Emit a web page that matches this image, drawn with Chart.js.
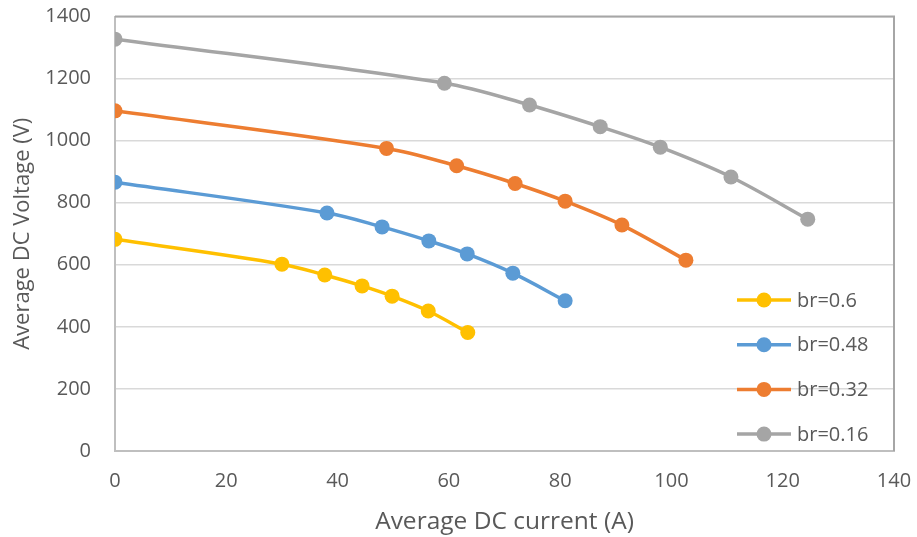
<!DOCTYPE html>
<html>
<head>
<meta charset="utf-8">
<script src="https://cdn.jsdelivr.net/npm/chart.js@4.4.1/dist/chart.umd.min.js"></script>
<style>
  html, body { margin: 0; padding: 0; background: #ffffff; }
  #wrap { width: 917px; height: 537px; position: relative; }
</style>
</head>
<body>
<div id="wrap"><canvas id="chart"></canvas></div>
<script>
// Series names
const seriesLabels = ['br=0.6', 'br=0.48', 'br=0.32', 'br=0.16'];

// Average DC current (A) per operating point
const current06 = [0, 30.0, 37.7, 44.4, 49.8, 56.3, 63.4];
const current048 = [0, 38.1, 48.0, 56.4, 63.3, 71.5, 80.9];
const current032 = [0, 48.8, 61.4, 71.9, 80.9, 91.1, 102.6];
const current016 = [0, 59.2, 74.5, 87.2, 98.0, 110.7, 124.5];

// Average DC voltage (V) per operating point
const voltage06 = [682, 602, 567, 532, 499, 451, 382];
const voltage048 = [866, 767, 722, 677, 635, 573, 484];
const voltage032 = [1096, 975, 919, 862, 805, 728, 615];
const voltage016 = [1327, 1185, 1115, 1045, 979, 883, 747];

// Axis ticks
const xTicks = [0, 20, 40, 60, 80, 100, 120, 140];
const yTicks = [0, 200, 400, 600, 800, 1000, 1200, 1400];

const seriesColors = ['#FFC000', '#5B9BD5', '#ED7D31', '#A5A5A5'];
const textColor = '#595959';
const fontFamily = '"Open Sans", "Liberation Sans", sans-serif';

function toPoints(xs, ys) {
  return xs.map((x, i) => ({ x: x, y: ys[i] }));
}

const seriesData = [
  toPoints(current06, voltage06),
  toPoints(current048, voltage048),
  toPoints(current032, voltage032),
  toPoints(current016, voltage016)
];

const datasets = seriesLabels.map((label, i) => ({
  label: label,
  data: seriesData[i],
  showLine: true,
  borderColor: seriesColors[i],
  backgroundColor: seriesColors[i],
  borderWidth: 3.5,
  pointRadius: 7.5,
  pointHoverRadius: 7.5,
  pointBorderWidth: 0,
  pointBackgroundColor: seriesColors[i],
  tension: 0.35,
  cubicInterpolationMode: 'default'
}));

// Frame on the top and right of the plot area
const plotFrame = {
  id: 'plotFrame',
  beforeDatasetsDraw(chart) {
    const { ctx, chartArea: a } = chart;
    ctx.save();
    ctx.strokeStyle = '#A6A6A6';
    ctx.lineWidth = 2;
    ctx.beginPath();
    ctx.moveTo(a.left, a.top);
    ctx.lineTo(a.right, a.top);
    ctx.lineTo(a.right, a.bottom);
    ctx.stroke();
    ctx.restore();
  }
};

// Legend drawn inside the lower-right part of the plot
const insideLegend = {
  id: 'insideLegend',
  afterDraw(chart) {
    const { ctx, chartArea: a } = chart;
    ctx.save();
    ctx.font = '20px ' + fontFamily;
    ctx.textBaseline = 'middle';
    ctx.textAlign = 'left';
    chart.data.datasets.forEach((ds, i) => {
      const y = a.top + 283.5 + i * 44.7;
      const x0 = a.right - 157;
      const x1 = a.right - 103;
      ctx.strokeStyle = ds.borderColor;
      ctx.lineWidth = 3.5;
      ctx.beginPath();
      ctx.moveTo(x0, y);
      ctx.lineTo(x1, y);
      ctx.stroke();
      ctx.fillStyle = ds.borderColor;
      ctx.beginPath();
      ctx.arc((x0 + x1) / 2, y, 7.5, 0, Math.PI * 2);
      ctx.fill();
      ctx.fillStyle = textColor;
      ctx.fillText(ds.label, a.right - 97, y + 1);
    });
    ctx.restore();
  }
};

function clearScalePadding(scale) {
  scale.paddingTop = 0;
  scale.paddingBottom = 0;
  scale.paddingLeft = 0;
  scale.paddingRight = 0;
}

new Chart(document.getElementById('chart'), {
  type: 'scatter',
  data: { datasets: datasets },
  plugins: [plotFrame, insideLegend],
  options: {
    responsive: true,
    maintainAspectRatio: false,
    animation: false,
    layout: { padding: { top: 16.5, right: 23, bottom: 0, left: 0 } },
    plugins: {
      legend: { display: false },
      tooltip: { enabled: false }
    },
    scales: {
      x: {
        type: 'linear',
        min: xTicks[0],
        max: xTicks[xTicks.length - 1],
        afterBuildTicks(scale) { scale.ticks = xTicks.map(v => ({ value: v })); },
        afterFit(scale) { scale.height = 86; clearScalePadding(scale); },
        grid: { display: false, drawTicks: false },
        border: { display: true, color: '#BFBFBF', width: 2 },
        ticks: {
          color: textColor,
          font: { family: fontFamily, size: 20 },
          padding: 18,
          maxRotation: 0,
          callback: v => String(v)
        },
        title: {
          display: true,
          text: 'Average DC current (A)',
          color: textColor,
          font: { family: fontFamily, size: 24.5 },
          padding: { top: 0, bottom: 0 }
        }
      },
      y: {
        type: 'linear',
        min: yTicks[0],
        max: yTicks[yTicks.length - 1],
        afterBuildTicks(scale) { scale.ticks = yTicks.map(v => ({ value: v })); },
        afterFit(scale) { scale.width = 115; clearScalePadding(scale); },
        grid: { color: '#D9D9D9', lineWidth: 1.5, drawTicks: false },
        border: { display: true, color: '#BFBFBF', width: 2 },
        ticks: {
          color: textColor,
          font: { family: fontFamily, size: 20 },
          padding: 24,
          callback: v => String(v)
        },
        title: {
          display: true,
          text: 'Average DC Voltage (V)',
          color: textColor,
          font: { family: fontFamily, size: 22 },
          padding: { top: 10, bottom: 0 }
        }
      }
    }
  }
});
</script>
</body>
</html>
